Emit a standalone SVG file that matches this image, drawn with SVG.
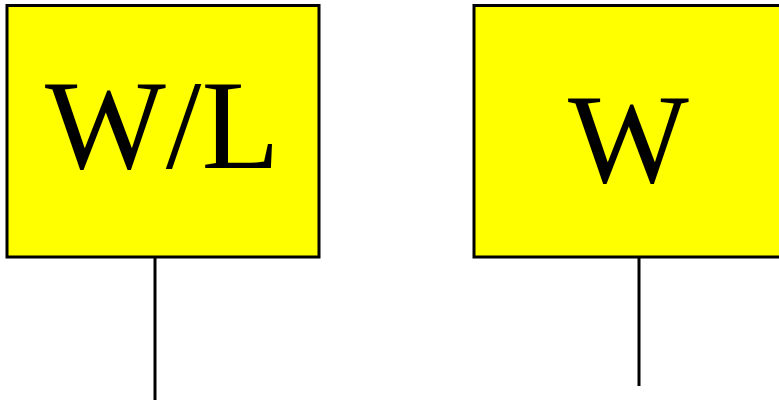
<svg xmlns="http://www.w3.org/2000/svg" width="779" height="400" viewBox="0 0 779 400">
<style>
.box{fill:#ffff00;stroke:#000;stroke-width:3}
.lbl{font-family:"Liberation Serif","Times New Roman",serif;font-size:128px;fill:#000}
.conn{stroke:#000;stroke-width:3;fill:none}
</style>
<rect width="779" height="400" fill="#fff"/>
<g id="connectors">
<line class="conn" x1="155" y1="257" x2="155" y2="400"/>
<line class="conn" x1="639" y1="257" x2="639" y2="386"/>
</g>
<g id="node-wl">
<rect class="box" x="7" y="5.5" width="312" height="251.5"/>
<text class="lbl" x="45" y="168">W/L</text>
</g>
<g id="node-w">
<rect class="box" x="474" y="5.5" width="320" height="251.5"/>
<text class="lbl" x="568" y="182">W</text>
</g>
</svg>
